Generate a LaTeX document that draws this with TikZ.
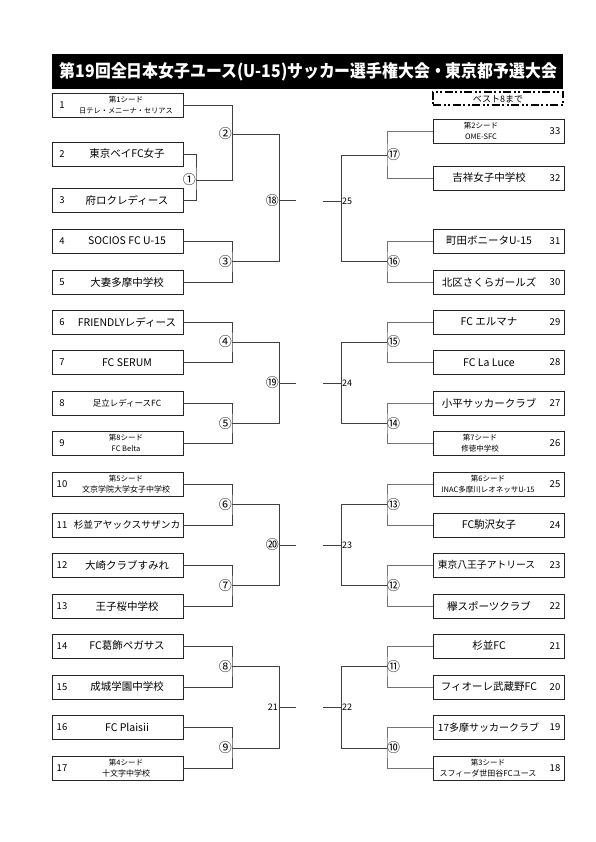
\documentclass[tikz,border=0pt]{standalone}
\usepackage{fontspec}
\setmainfont{Noto Sans CJK JP}
\usepackage{graphicx}
\tikzset{
  tbox/.style={draw=black!85, line width=0.9pt, minimum width=131pt, minimum height=24pt, inner sep=0pt},
  num/.style={font=\fontsize{9.5}{11}\selectfont, inner sep=0pt},
  nm/.style={font=\fontsize{10.5}{12}\selectfont, inner sep=0pt},
  sd/.style={font=\fontsize{7.5}{8}\selectfont, inner sep=0pt},
  ln/.style={draw=black!75, line width=0.9pt},
  rln/.style={draw=black!55, line width=0.9pt},
  cl/.style={font=\fontsize{13}{14}\selectfont, inner sep=0pt},
  nl/.style={font=\fontsize{9}{10}\selectfont, inner sep=1pt},
}
% left team: id, y, number, name
\newcommand{\lteam}[4]{%
  \node[tbox] (#1) at (117.5,#2) {};
  \node[num] (#1n) at (62,#2) {#3};
  \node[nm] (#1t) at (127,#2) {#4};}
% left seed: id, y, number, line1, line2, size2
\newcommand{\lseed}[6]{%
  \node[tbox] (#1) at (117.5,#2) {};
  \node[num] (#1n) at (62,#2) {#3};
  \node[sd] (#1a) at (126,#2-5.5) {#4};
  \node[sd, font=\fontsize{#6}{#6}\selectfont] (#1b) at (126,#2+5.5) {#5};}
% right team: id, y, number, name
\newcommand{\rteam}[4]{%
  \node[tbox] (#1) at (499,#2) {};
  \node[num] (#1n) at (555,#2) {#3};
  \node[nm] (#1t) at (489,#2) {#4};}
% right seed: id, y, number, line1, line2, size2, xcenter
\newcommand{\rseed}[7]{%
  \node[tbox] (#1) at (499,#2) {};
  \node[num] (#1n) at (555,#2) {#3};
  \node[sd] (#1a) at (#7,#2-5.5) {#4};
  \node[sd, font=\fontsize{#6}{#6}\selectfont] (#1b) at (#7,#2+5.5) {#5};}
\begin{document}
\begin{tikzpicture}[x=1pt,y=-1pt]
\useasboundingbox (0,0) rectangle (595,842);
\fill[white] (0,0) rectangle (595,842);
% title
\node[fill=black, minimum width=511pt, minimum height=35pt, inner sep=0pt] (titlebar) at (307.5,71.5) {};
\node[text=white, inner sep=0pt] (titletext) at (308.5,71.5) {\resizebox{497pt}{15pt}{\bfseries 第19回全日本女子ユース(U-15)サッカー選手権大会・東京都予選大会}};
% best 8 box
\node[draw=black, line width=1.5pt, dash pattern=on 8pt off 2.5pt on 2pt off 2.5pt on 2pt off 2.5pt, minimum width=130pt, minimum height=13pt, inner sep=0pt] (best8) at (498,98.5) {};
\node[font=\fontsize{9}{9}\selectfont, inner sep=0pt] (best8t) at (498,98.8) {ベスト8まで};
% left teams
\lseed{L1}{105.5}{1}{第1シード}{日テレ・メニーナ・セリアス}{7.2}
\lteam{L2}{154}{2}{東京ベイFC女子}
\lteam{L3}{200.5}{3}{府ロクレディース}
\lteam{L4}{241}{4}{SOCIOS FC U-15}
\lteam{L5}{282}{5}{大妻多摩中学校}
\lteam{L6}{322}{6}{FRIENDLYレディース}
\lteam{L7}{362.5}{7}{FC SERUM}
\node[tbox] (L8) at (117.5,403.5) {};
\node[num] (L8n) at (62,403.5) {8};
\node[nm, font=\fontsize{8.5}{10}\selectfont] (L8t) at (127,403.5) {足立レディースFC};
\lseed{L9}{443.5}{9}{第8シード}{FC Belta}{7.5}
\lseed{L10}{484}{10}{第5シード}{文京学院大学女子中学校}{8}
\node[tbox] (L11) at (117.5,525) {};
\node[num] (L11n) at (62,525) {11};
\node[nm, font=\fontsize{9.7}{11}\selectfont] (L11t) at (127,525) {杉並アヤックスサザンカ};
\lteam{L12}{565}{12}{大崎クラブすみれ}
\lteam{L13}{606}{13}{王子桜中学校}
\lteam{L14}{646}{14}{FC葛飾ペガサス}
\lteam{L15}{687}{15}{成城学園中学校}
\lteam{L16}{727.5}{16}{FC Plaisii}
\lseed{L17}{768}{17}{第4シード}{十文字中学校}{8}
% right teams
\rseed{R33}{131}{33}{第2シード}{OME-SFC}{7.5}{481}
\rteam{R32}{178}{32}{吉祥女子中学校}
\rteam{R31}{241}{31}{町田ボニータU-15}
\rteam{R30}{282}{30}{北区さくらガールズ}
\rteam{R29}{322}{29}{FC エルマナ}
\rteam{R28}{362.5}{28}{FC La Luce}
\rteam{R27}{403.5}{27}{小平サッカークラブ}
\rseed{R26}{443.5}{26}{第7シード}{修徳中学校}{7.5}{480}
\rseed{R25}{484}{25}{第6シード}{INAC多摩川レオネッサU-15}{7.5}{488}
\rteam{R24}{525}{24}{FC駒沢女子}
\node[tbox] (R23) at (499,565) {};
\node[num] (R23n) at (555,565) {23};
\node[nm, font=\fontsize{9.8}{11}\selectfont] (R23t) at (486.5,565) {東京八王子アトリース};
\rteam{R22}{606}{22}{欅スポーツクラブ}
\rteam{R21}{646}{21}{杉並FC}
\rteam{R20}{687}{20}{フィオーレ武蔵野FC}
\node[tbox] (R19) at (499,727.5) {};
\node[num] (R19n) at (555,727.5) {19};
\node[nm, font=\fontsize{10}{11}\selectfont] (R19t) at (488.5,727.5) {17多摩サッカークラブ};
\rseed{R18}{768}{18}{第3シード}{スフィーダ世田谷FCユース}{8}{488}
% match points
\coordinate (m1) at (196,180);
\coordinate (m2) at (232,134);
\coordinate (m3) at (232,261.5);
\coordinate (m4) at (232,342);
\coordinate (m5) at (232,423.5);
\coordinate (m6) at (232,504.5);
\coordinate (m7) at (232,585.5);
\coordinate (m8) at (232,666.5);
\coordinate (m9) at (232,748);
\coordinate (m18) at (279,200.5);
\coordinate (m19) at (279,383);
\coordinate (m20) at (279,545);
\coordinate (m21) at (279,707);
\coordinate (s18) at (296,200.5);
\coordinate (s19) at (296,383);
\coordinate (s20) at (296,545);
\coordinate (s21) at (296,707);
\coordinate (m17) at (387,155);
\coordinate (m16) at (387,261.5);
\coordinate (m15) at (387,342);
\coordinate (m14) at (387,423.5);
\coordinate (m13) at (387,504.5);
\coordinate (m12) at (387,585.5);
\coordinate (m11) at (387,666.5);
\coordinate (m10) at (387,748);
\coordinate (m25) at (341,201);
\coordinate (m24) at (341,383);
\coordinate (m23) at (341,545);
\coordinate (m22) at (341,707);
\coordinate (s25) at (323,201);
\coordinate (s24) at (323,383);
\coordinate (s23) at (323,545);
\coordinate (s22) at (323,707);
% left brackets
\draw[ln] (L2.east) -| (m1) |- (L3.east);
\draw[ln] (L1.east) -| (m2);
\draw[ln] (m1) -| (m2);
\draw[ln] (L4.east) -| (m3) |- (L5.east);
\draw[ln] (L6.east) -| (m4) |- (L7.east);
\draw[ln] (L8.east) -| (m5) |- (L9.east);
\draw[ln] (L10.east) -| (m6) |- (L11.east);
\draw[ln] (L12.east) -| (m7) |- (L13.east);
\draw[ln] (L14.east) -| (m8) |- (L15.east);
\draw[ln] (L16.east) -| (m9) |- (L17.east);
\draw[ln] (m2) -| (m18); \draw[ln] (m3) -| (m18); \draw[ln] (m18) -- (s18);
\draw[ln] (m4) -| (m19); \draw[ln] (m5) -| (m19); \draw[ln] (m19) -- (s19);
\draw[ln] (m6) -| (m20); \draw[ln] (m7) -| (m20); \draw[ln] (m20) -- (s20);
\draw[ln] (m8) -| (m21); \draw[ln] (m9) -| (m21); \draw[ln] (m21) -- (s21);
% right brackets
\draw[rln] (R33.west) -| (m17) |- (R32.west);
\draw[rln] (R31.west) -| (m16) |- (R30.west);
\draw[rln] (R29.west) -| (m15) |- (R28.west);
\draw[rln] (R27.west) -| (m14) |- (R26.west);
\draw[rln] (R25.west) -| (m13) |- (R24.west);
\draw[rln] (R23.west) -| (m12) |- (R22.west);
\draw[rln] (R21.west) -| (m11) |- (R20.west);
\draw[rln] (R19.west) -| (m10) |- (R18.west);
\draw[ln] (m17) -| (m25); \draw[ln] (m16) -| (m25); \draw[ln] (s25) -- (m25);
\draw[ln] (m15) -| (m24); \draw[ln] (m14) -| (m24); \draw[ln] (s24) -- (m24);
\draw[ln] (m13) -| (m23); \draw[ln] (m12) -| (m23); \draw[ln] (s23) -- (m23);
\draw[ln] (m11) -| (m22); \draw[ln] (m10) -| (m22); \draw[ln] (s22) -- (m22);
% labels
\node[cl,left] (k1) at (m1) {①};
\node[cl,left] (k2) at (m2) {②};
\node[cl,left] (k3) at (m3) {③};
\node[cl,left] (k4) at (m4) {④};
\node[cl,left] (k5) at (m5) {⑤};
\node[cl,left] (k6) at (m6) {⑥};
\node[cl,left] (k7) at (m7) {⑦};
\node[cl,left] (k8) at (m8) {⑧};
\node[cl,left] (k9) at (m9) {⑨};
\node[cl,left] (k18) at (m18) {⑱};
\node[cl,left] (k19) at (m19) {⑲};
\node[cl,left] (k20) at (m20) {⑳};
\node[nl,left] (k21) at (m21) {21};
\node[cl,right] (k17) at (m17) {⑰};
\node[cl,right] (k16) at (m16) {⑯};
\node[cl,right] (k15) at (m15) {⑮};
\node[cl,right] (k14) at (m14) {⑭};
\node[cl,right] (k13) at (m13) {⑬};
\node[cl,right] (k12) at (m12) {⑫};
\node[cl,right] (k11) at (m11) {⑪};
\node[cl,right] (k10) at (m10) {⑩};
\node[nl,right] (k25) at (m25) {25};
\node[nl,right] (k24) at (m24) {24};
\node[nl,right] (k23) at (m23) {23};
\node[nl,right] (k22) at (m22) {22};
\end{tikzpicture}
\end{document}
